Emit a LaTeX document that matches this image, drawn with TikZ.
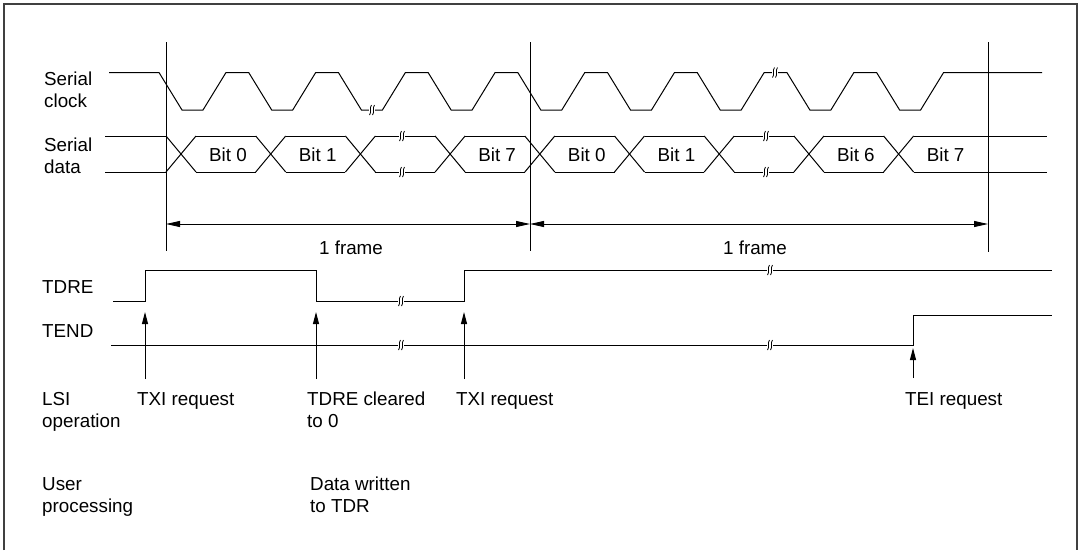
\documentclass[tikz,border=0pt]{standalone}
\usepackage{fontspec}
\setmainfont{Liberation Sans}
\usetikzlibrary{arrows.meta}
\tikzset{
  wave/.style={line width=1pt, black, line join=miter},
  lbl/.style={anchor=base west, inner sep=0pt, text=black, font=\fontsize{18.8}{22}\selectfont},
  lblc/.style={anchor=base, inner sep=0pt, text=black, font=\fontsize{18.8}{22}\selectfont},
  frmarrow/.style={{Triangle[length=14pt,width=6pt]}-{Triangle[length=14pt,width=6pt]}, line width=0.9pt},
  reqarrow/.style={-{Triangle[length=12pt,width=6pt]}, line width=1pt},
  brk/.pic={
    \fill[white] (-3,-6) rectangle (3,6);
    \draw[line width=0.8pt] (-0.5,-5) .. controls (-3,-2) and (0,2) .. (-2.5,5);
    \draw[line width=0.8pt] (2.5,-5) .. controls (0,-2) and (3,2) .. (0.5,5);
  }
}
\begin{document}
\begin{tikzpicture}[x=1pt,y=-1pt]
\useasboundingbox (0,0) rectangle (1082,550);
% outer frame (open at bottom)
\draw[line width=1.5pt, black!75] (4,550) -- (4,4) -- (1077,4) -- (1077,550);

% ---- labels on the left
\node[lbl] (sc1) at (44,85) {Serial};
\node[lbl] (sc2) at (44,107) {clock};
\node[lbl] (sd1) at (44,151) {Serial};
\node[lbl] (sd2) at (44,173) {data};
\node[lbl] (tdre) at (42,293) {TDRE};
\node[lbl] (tend) at (42,337) {TEND};
\node[lbl] (lsi1) at (42,405) {LSI};
\node[lbl] (lsi2) at (42,427) {operation};
\node[lbl] (usr1) at (42,490) {User};
\node[lbl] (usr2) at (42,512) {processing};

% ---- serial clock
\draw[wave] (109,72.5)
  foreach \k in {0,...,8} {
    -- ({159+89.7*\k},72.5) -- ({182+89.7*\k},110)
    -- ({203+89.7*\k},110) -- ({226+89.7*\k},72.5)
  } -- (1042,72.5);
\pic at (372,110) {brk};
\pic at (775,72.5) {brk};

% ---- serial data
\draw[wave] (105,136) -- (166,136);
\draw[wave] (105,172) -- (166,172);
\foreach \k in {0,...,8} {
  \draw[wave] ({181+89.7*\k-15},136) -- ({181+89.7*\k+15},172);
  \draw[wave] ({181+89.7*\k-15},172) -- ({181+89.7*\k+15},136);
}
\foreach \k in {0,...,7} {
  \draw[wave] ({181+89.7*\k+15},136) -- ({181+89.7*\k+74.7},136);
  \draw[wave] ({181+89.7*\k+15},172) -- ({181+89.7*\k+74.7},172);
}
\draw[wave] ({181+89.7*8+15},136) -- (1047,136);
\draw[wave] ({181+89.7*8+15},172) -- (1047,172);
\pic at (402,136) {brk};
\pic at (402,172) {brk};
\pic at (766,136) {brk};
\pic at (766,172) {brk};
\foreach \k/\t/\n in {0/Bit 0/b0, 1/Bit 1/b1, 3/Bit 7/b3, 4/Bit 0/b4, 5/Bit 1/b5, 7/Bit 6/b7, 8/Bit 7/b8} {
  \node[lblc] (\n) at ({181+89.7*\k+47},161) {\t};
}

% ---- frame boundaries
\coordinate (v1t) at (166,42); \coordinate (v1b) at (166,251);
\coordinate (v2t) at (530,42); \coordinate (v2b) at (530,251);
\coordinate (v3t) at (988,42); \coordinate (v3b) at (988,252);
\draw[line width=1pt] (v1t) -- (v1b);
\draw[line width=1pt] (v2t) -- (v2b);
\draw[line width=1pt] (v3t) -- (v3b);
\coordinate (f1a) at (166,224); \coordinate (f1b) at (530,224); \coordinate (f2b) at (988,224);
\draw[frmarrow] (f1a) -- (f1b);
\draw[frmarrow] (f1b) -- (f2b);
\node[lblc] (fr1) at (351,254) {1 frame};
\node[lblc] (fr2) at (755,254) {1 frame};

% ---- TDRE
\draw[wave] (113,301) -- (145,301) -- (145,270) -- (316,270) -- (316,301)
  -- (464,301) -- (464,270) -- (1052,270);
\pic at (401,301) {brk};
\pic at (770,270) {brk};

% ---- TEND
\draw[wave] (111,345) -- (913,345) -- (913,315) -- (1052,315);
\pic at (401,345) {brk};
\pic at (770,345) {brk};

% ---- request arrows
\coordinate (r1s) at (145,379); \coordinate (r1e) at (145,312);
\coordinate (r2s) at (316,379); \coordinate (r2e) at (316,312);
\coordinate (r3s) at (464,379); \coordinate (r3e) at (464,312);
\coordinate (r4s) at (913,378); \coordinate (r4e) at (913,348);
\draw[reqarrow] (r1s) -- (r1e);
\draw[reqarrow] (r2s) -- (r2e);
\draw[reqarrow] (r3s) -- (r3e);
\draw[reqarrow] (r4s) -- (r4e);

% ---- LSI operation labels
\node[lbl] (txi1) at (137,405) {TXI request};
\node[lbl] (clr1) at (307,405) {TDRE cleared};
\node[lbl] (clr2) at (307,427) {to 0};
\node[lbl] (txi2) at (456,405) {TXI request};
\node[lbl] (tei) at (905,405) {TEI request};

% ---- user processing labels
\node[lbl] (dw1) at (310,490) {Data written};
\node[lbl] (dw2) at (310,512) {to TDR};
\end{tikzpicture}
\end{document}
